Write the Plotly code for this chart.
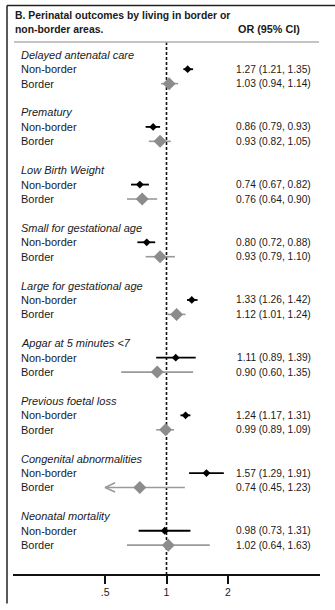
import numpy as np
import plotly.graph_objects as go

# ---------------- data ----------------
outcomes = ["Delayed antenatal care", "Prematury", "Low Birth Weight",
            "Small for gestational age", "Large for gestational age",
            "Apgar at 5 minutes &lt;7", "Previous foetal loss",
            "Congenital abnormalities", "Neonatal mortality"]
nb_or = [1.27, 0.86, 0.74, 0.80, 1.33, 1.11, 1.24, 1.57, 0.98]
nb_lo = [1.21, 0.79, 0.67, 0.72, 1.26, 0.89, 1.17, 1.29, 0.73]
nb_hi = [1.35, 0.93, 0.82, 0.88, 1.42, 1.39, 1.31, 1.91, 1.31]
b_or = [1.03, 0.93, 0.76, 0.93, 1.12, 0.90, 0.99, 0.74, 1.02]
b_lo = [0.94, 0.82, 0.64, 0.79, 1.01, 0.60, 0.89, 0.45, 0.64]
b_hi = [1.14, 1.05, 0.90, 1.10, 1.24, 1.35, 1.09, 1.23, 1.63]
tick_vals = [0.5, 1, 2]
tick_text = [".5", "1", "2"]
group_labels = ["Non-border", "Border"]
title_lines = ["B. Perinatal outcomes by living in border or", "non-border areas."]
col_header = "OR (95% CI)"
null_value = 1

# ---------------- geometry helpers ----------------
W, H = 335, 610
L, R, T, B = 13, 15, 42, 28
PW, PH = W - L - R, H - T - B
FONT = "Liberation Sans"
Y_TOP, Y_BOT = -0.887, 36


def px(x):
    return (x - L) / PW


def py(y):
    return 1 - (y - T) / PH


clip_lo, clip_hi = min(tick_vals), max(tick_vals)
BLACK = "#000000"
GREY = "#8c8c8c"
GREY_LINE = "#9a9a9a"
TXT = "#1a1a1a"

fig = go.Figure()

rows_nb = [4 * i + 1 for i in range(len(outcomes))]
rows_b = [4 * i + 2 for i in range(len(outcomes))]
rows_head = [4 * i for i in range(len(outcomes))]

annotations = []
shapes = []

# reference (null) line
fig.add_trace(go.Scatter(x=[null_value, null_value], y=[Y_TOP, Y_BOT], mode="lines",
                         line=dict(color="#111", width=1.6, dash="3px,2px"),
                         hoverinfo="skip", showlegend=False))


def add_series(vals, lo, hi, rows, lcolor, mcolor, msize, lwidth):
    for v, l, h, r in zip(vals, lo, hi, rows):
        lp = max(l, clip_lo)
        hp = min(h, clip_hi)
        fig.add_trace(go.Scatter(x=[lp, hp], y=[r, r], mode="lines",
                                 line=dict(color=lcolor, width=lwidth),
                                 hoverinfo="skip", showlegend=False))
        if l < clip_lo:
            f = 10 ** 0.049
            fig.add_trace(go.Scatter(x=[lp * f, lp, lp * f], y=[r - 0.32, r, r + 0.32],
                                     mode="lines", line=dict(color=lcolor, width=lwidth),
                                     hoverinfo="skip", showlegend=False))
    fig.add_trace(go.Scatter(x=vals, y=rows, mode="markers",
                             marker=dict(symbol="diamond", size=msize, color=mcolor,
                                         line=dict(width=0)),
                             hoverinfo="skip", showlegend=False))


add_series(b_or, b_lo, b_hi, rows_b, GREY_LINE, GREY, 10, 1.6)
add_series(nb_or, nb_lo, nb_hi, rows_nb, BLACK, BLACK, 6, 1.8)

# text columns
for i, name in enumerate(outcomes):
    annotations.append(dict(x=px(19), y=rows_head[i], xref="paper", yref="y",
                            text="<i>" + name + "</i>", showarrow=False,
                            xanchor="left", yanchor="middle",
                            font=dict(family=FONT, size=11, color=TXT)))
    for r, lab, v, l, h in [(rows_nb[i], group_labels[0], nb_or[i], nb_lo[i], nb_hi[i]),
                            (rows_b[i], group_labels[1], b_or[i], b_lo[i], b_hi[i])]:
        annotations.append(dict(x=px(19), y=r, xref="paper", yref="y", text=lab,
                                showarrow=False, xanchor="left", yanchor="middle",
                                font=dict(family=FONT, size=11, color=TXT)))
        annotations.append(dict(x=px(313), y=r, xref="paper", yref="y",
                                text=f"{v:.2f} ({l:.2f}, {h:.2f})",
                                showarrow=False, xanchor="right", yanchor="middle",
                                font=dict(family=FONT, size=10.2, color=TXT)))

for yy, line in zip([15, 29], title_lines):
    annotations.append(dict(x=px(13), y=py(yy), xref="paper", yref="paper",
                            text="<b>" + line + "</b>", showarrow=False,
                            xanchor="left", yanchor="middle",
                            font=dict(family=FONT, size=10.4, color=TXT)))
annotations.append(dict(x=px(236), y=py(29), xref="paper", yref="paper",
                        text="<b>" + col_header + "</b>", showarrow=False,
                        xanchor="left", yanchor="middle",
                        font=dict(family=FONT, size=10.8, color=TXT)))

# frame and separator
shapes.append(dict(type="line", xref="paper", yref="paper", x0=px(7), x1=px(7),
                   y0=py(5), y1=py(612), line=dict(color="#222", width=1.5)))
shapes.append(dict(type="line", xref="paper", yref="paper", x0=px(7), x1=px(336),
                   y0=py(5), y1=py(5), line=dict(color="#222", width=1.5)))
shapes.append(dict(type="line", xref="paper", yref="paper", x0=px(14), x1=px(319),
                   y0=py(42), y1=py(42), line=dict(color="#b0b0b0", width=1.5)))

fig.update_layout(
    width=W, height=H,
    margin=dict(l=L, r=R, t=T, b=B, pad=0),
    paper_bgcolor="white", plot_bgcolor="white",
    hovermode=False,
    xaxis=dict(type="log", range=[-0.7526, 0.7526], showgrid=False, zeroline=False,
               showline=True, linecolor="#111", linewidth=1.6,
               tickmode="array", tickvals=tick_vals, ticktext=tick_text,
               ticks="outside", ticklen=8, tickwidth=1.6, tickcolor="#111",
               tickfont=dict(family=FONT, size=10.5, color=TXT)),
    yaxis=dict(range=[Y_BOT, Y_TOP], showgrid=False, zeroline=False, showline=False,
               showticklabels=False, ticks=""),
    annotations=annotations,
    shapes=shapes,
)

fig.write_html("out.html", config={"displayModeBar": False},
               post_script="document.body.style.margin='0';")
